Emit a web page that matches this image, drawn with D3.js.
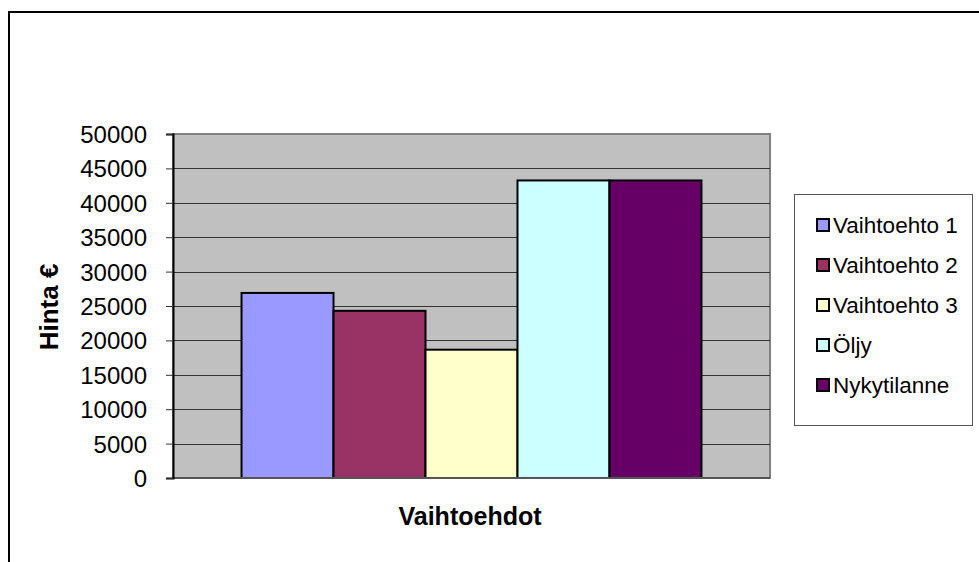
<!DOCTYPE html>
<html>
<head>
<meta charset="utf-8">
<script src="https://cdn.jsdelivr.net/npm/d3@7"></script>
<style>
  body { margin: 0; background: #fff; }
  svg text { font-family: "Liberation Sans", Arial, sans-serif; fill: #000; }
</style>
</head>
<body>
<svg id="chart" width="979" height="562"></svg>
<script>
// data
const categories = ["Hinta"];
const seriesNames = ["Vaihtoehto 1", "Vaihtoehto 2", "Vaihtoehto 3", "Öljy", "Nykytilanne"];
const seriesValues = [26900, 24300, 18650, 43250, 43250];
const seriesColors = ["#9999ff", "#993366", "#ffffcc", "#ccffff", "#660066"];
const yTicks = [0, 5000, 10000, 15000, 20000, 25000, 30000, 35000, 40000, 45000, 50000];

const svg = d3.select("#chart");

// outer chart frame (runs off the right/bottom edge)
svg.append("rect")
  .attr("x", 9).attr("y", 12)
  .attr("width", 1000).attr("height", 600)
  .attr("fill", "#fff")
  .attr("stroke", "#000")
  .attr("stroke-width", 2);

const plot = { left: 173, top: 134, right: 770, bottom: 478 };

const x0 = d3.scaleBand().domain(categories)
  .range([plot.left, plot.right])
  .paddingOuter(0.149).paddingInner(0);
const x1 = d3.scaleBand().domain(seriesNames)
  .range([0, x0.bandwidth()]);
const y = d3.scaleLinear().domain([0, 50000]).range([plot.bottom, plot.top]);
const color = d3.scaleOrdinal().domain(seriesNames).range(seriesColors);

// plot area background
svg.append("rect")
  .attr("x", plot.left).attr("y", plot.top)
  .attr("width", plot.right - plot.left).attr("height", plot.bottom - plot.top)
  .attr("fill", "#c0c0c0")
  .attr("stroke", "#808080")
  .attr("stroke-width", 2);

// gridlines
svg.append("g")
  .selectAll("line")
  .data(yTicks.filter(d => d > 0 && d < 50000))
  .join("line")
  .attr("x1", plot.left).attr("x2", plot.right)
  .attr("y1", d => Math.round(y(d)) + 0.5).attr("y2", d => Math.round(y(d)) + 0.5)
  .attr("stroke", "#333")
  .attr("stroke-width", 1);

// bars
svg.append("g")
  .selectAll("rect")
  .data(seriesNames.map((s, i) => ({ key: s, cat: categories[0], value: seriesValues[i] })))
  .join("rect")
  .attr("x", d => x0(d.cat) + x1(d.key))
  .attr("y", d => y(d.value))
  .attr("width", x1.bandwidth())
  .attr("height", d => y(0) - y(d.value))
  .attr("fill", d => color(d.key))
  .attr("stroke", "#000")
  .attr("stroke-width", 2);

// x baseline
svg.append("line")
  .attr("x1", plot.left).attr("x2", plot.right)
  .attr("y1", y(0)).attr("y2", y(0))
  .attr("stroke", "#555").attr("stroke-width", 2);

// y axis
const yAxis = d3.axisLeft(y).tickValues(yTicks).tickSize(7).tickPadding(19)
  .tickFormat(d3.format("d"));
const gY = svg.append("g")
  .attr("transform", `translate(${plot.left},0)`)
  .call(yAxis);
gY.select(".domain").attr("stroke", "#000").attr("stroke-width", 2);
gY.selectAll(".tick line").attr("stroke", "#333");
gY.selectAll(".tick text")
  .attr("font-family", "Liberation Sans, Arial, sans-serif")
  .attr("font-size", 24)
  .attr("dy", "0.35em");

// axis titles
svg.append("text")
  .attr("x", 470).attr("y", 525)
  .attr("text-anchor", "middle")
  .attr("font-size", 25)
  .attr("font-weight", "bold")
  .text("Vaihtoehdot");

svg.append("text")
  .attr("transform", "translate(58,307) rotate(-90)")
  .attr("text-anchor", "middle")
  .attr("font-size", 26)
  .attr("font-weight", "bold")
  .text("Hinta €");

// legend
const legend = svg.append("g");
legend.append("rect")
  .attr("x", 794.5).attr("y", 194.5)
  .attr("width", 178).attr("height", 231)
  .attr("fill", "#fff")
  .attr("stroke", "#555")
  .attr("stroke-width", 1);

const items = legend.selectAll("g.item")
  .data(seriesNames)
  .join("g")
  .attr("class", "item")
  .attr("transform", (d, i) => `translate(0, ${225 + i * 40})`);

items.append("rect")
  .attr("x", 817).attr("y", -6)
  .attr("width", 12).attr("height", 12)
  .attr("fill", d => color(d))
  .attr("stroke", "#000")
  .attr("stroke-width", 2);

items.append("text")
  .attr("x", 833).attr("y", 0)
  .attr("dy", "0.35em")
  .attr("font-size", 22.5)
  .text(d => d);
</script>
</body>
</html>
